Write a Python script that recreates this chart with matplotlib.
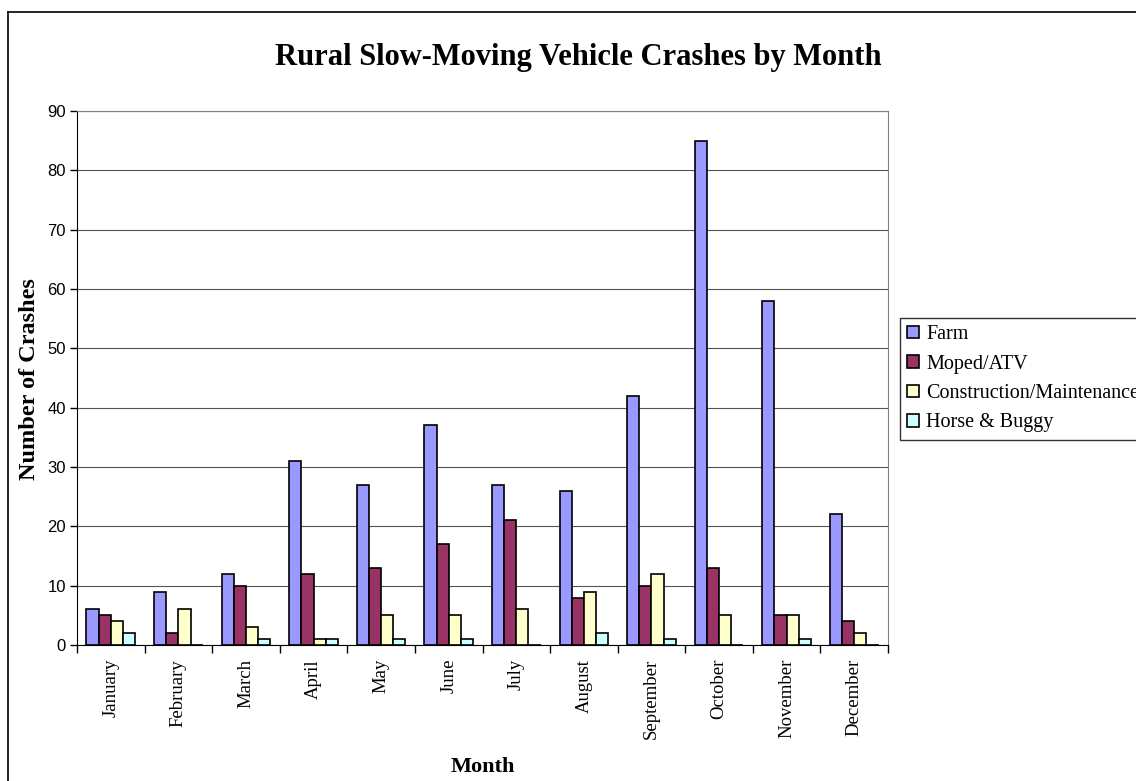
import matplotlib.pyplot as plt
import numpy as np
from matplotlib.lines import Line2D

months = ["January", "February", "March", "April", "May", "June", "July",
          "August", "September", "October", "November", "December"]
series_names = ["Farm", "Moped/ATV", "Construction/Maintenance", "Horse & Buggy"]
farm = [6, 9, 12, 31, 27, 37, 27, 26, 42, 85, 58, 22]
moped = [5, 2, 10, 12, 13, 17, 21, 8, 10, 13, 5, 4]
construction = [4, 6, 3, 1, 5, 5, 6, 9, 12, 5, 5, 2]
horse = [2, 0, 1, 1, 1, 1, 0, 2, 1, 0, 1, 0]
colors = ["#9999FF", "#993366", "#FFFFCC", "#CCFFFF"]

W, H = 1136, 781
fig = plt.figure(figsize=(W / 100, H / 100), dpi=100)
ax = fig.add_axes([77 / W, 1 - 645 / H, (888 - 77) / W, (645 - 111) / H])

serif = "Liberation Serif"
sans = "Liberation Sans"

x = np.arange(len(months))
bw = 0.18
for k, (vals, name) in enumerate(zip([farm, moped, construction, horse], series_names)):
    ax.bar(x - 1.5 * bw + k * bw + 0.5, vals, width=bw, color=colors[k],
           edgecolor="black", linewidth=1.2, label=name, zorder=3)

ax.set_xlim(0, 12)
ax.set_ylim(0, 90)
ax.set_yticks(np.arange(0, 91, 10))
ax.yaxis.grid(True, color="#555555", linewidth=0.8, zorder=0)
ax.set_axisbelow(True)
for lab in ax.get_yticklabels():
    lab.set_fontfamily(sans)
    lab.set_fontsize(12)
ax.tick_params(axis="y", direction="out", length=5, width=1, pad=3)

# ticks between categories, labels centered
ax.set_xticks(np.arange(0, 13))
ax.set_xticklabels([])
ax.set_xticks(x + 0.5, minor=True)
ax.set_xticklabels(months, minor=True, rotation=90, fontfamily=serif, fontsize=13.5)
ax.tick_params(axis="x", which="major", direction="out", length=6, width=1)
ax.tick_params(axis="x", which="minor", length=0, pad=10)

ax.spines["left"].set_color("black")
ax.spines["bottom"].set_color("black")
ax.spines["top"].set_color("#808080")
ax.spines["right"].set_color("#808080")

fig.text(578 / W, 1 - 57 / H, "Rural Slow-Moving Vehicle Crashes by Month",
         ha="center", va="center", fontfamily=serif, fontweight="bold", fontsize=22)
fig.text(30 / W, 1 - 379 / H, "Number of Crashes", rotation=90, ha="center", va="center",
         fontfamily=serif, fontweight="bold", fontsize=17.5)
fig.text(483 / W, 1 - 767 / H, "Month", ha="center", va="center",
         fontfamily=serif, fontweight="bold", fontsize=16)

leg = fig.legend(loc="upper left", bbox_to_anchor=(900 / W, 1 - 318 / H),
                 prop={"family": serif, "size": 14.5}, frameon=True, fancybox=False,
                 handlelength=0.6, handleheight=0.6, handletextpad=0.35,
                 borderpad=0.35, labelspacing=0.52, borderaxespad=0)
leg.get_frame().set_edgecolor("black")
leg.get_frame().set_linewidth(1)

# outer chart border (top and left visible)
fig.add_artist(Line2D([8 / W, 1.05], [1 - 12 / H, 1 - 12 / H], color="black", linewidth=1.2))
fig.add_artist(Line2D([8 / W, 8 / W], [-0.05, 1 - 12 / H], color="black", linewidth=1.2))

fig.savefig("out.png", dpi=100)
